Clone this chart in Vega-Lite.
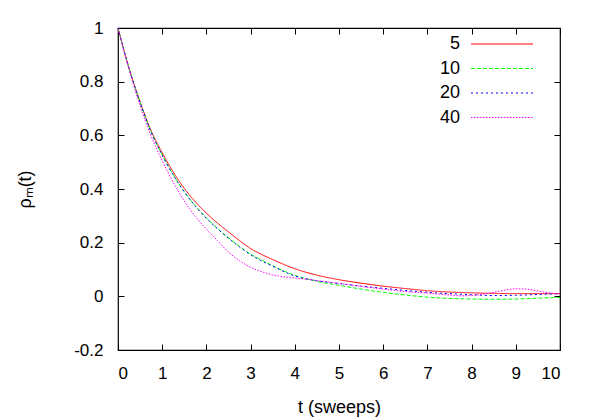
{
  "$schema": "https://vega.github.io/schema/vega-lite/v6.json",
  "autosize": "none",
  "width": 442,
  "height": 322,
  "padding": {"left": 118, "top": 28, "right": 40, "bottom": 70},
  "background": "white",
  "config": {
    "font": "Liberation Sans",
    "view": {"stroke": "#000000", "strokeWidth": 1.2},
    "axis": {
      "grid": false,
      "domain": false,
      "ticks": true,
      "tickColor": "#000000",
      "tickSize": 6,
      "tickWidth": 1,
      "offset": -6,
      "labelFont": "Liberation Sans",
      "labelFontSize": 17,
      "labelColor": "#000000",
      "titleFont": "Liberation Sans",
      "titleFontSize": 18,
      "titleFontWeight": "normal",
      "titleColor": "#000000"
    }
  },
  "data": {"values": [
    {"L":"5","t":0,"v":1},{"L":"5","t":0.25,"v":0.85},{"L":"5","t":0.5,"v":0.725},{"L":"5","t":0.75,"v":0.617},{"L":"5","t":1,"v":0.535},{"L":"5","t":1.25,"v":0.463},{"L":"5","t":1.5,"v":0.402},{"L":"5","t":1.75,"v":0.352},{"L":"5","t":2,"v":0.31},{"L":"5","t":2.25,"v":0.273},{"L":"5","t":2.5,"v":0.24},{"L":"5","t":2.75,"v":0.208},{"L":"5","t":3,"v":0.178},{"L":"5","t":3.25,"v":0.156},{"L":"5","t":3.5,"v":0.137},{"L":"5","t":4,"v":0.103},{"L":"5","t":4.5,"v":0.079},{"L":"5","t":5,"v":0.062},{"L":"5","t":5.5,"v":0.049},{"L":"5","t":6,"v":0.038},{"L":"5","t":6.5,"v":0.029},{"L":"5","t":7,"v":0.021},{"L":"5","t":7.5,"v":0.016},{"L":"5","t":8,"v":0.013},{"L":"5","t":8.5,"v":0.011},{"L":"5","t":9,"v":0.01},{"L":"5","t":9.5,"v":0.01},{"L":"5","t":10,"v":0.01},
    {"L":"10","t":0,"v":1},{"L":"10","t":0.25,"v":0.85},{"L":"10","t":0.5,"v":0.723},{"L":"10","t":0.75,"v":0.613},{"L":"10","t":1,"v":0.527},{"L":"10","t":1.25,"v":0.453},{"L":"10","t":1.5,"v":0.39},{"L":"10","t":1.75,"v":0.337},{"L":"10","t":2,"v":0.292},{"L":"10","t":2.25,"v":0.253},{"L":"10","t":2.5,"v":0.218},{"L":"10","t":2.75,"v":0.186},{"L":"10","t":3,"v":0.157},{"L":"10","t":3.25,"v":0.135},{"L":"10","t":3.5,"v":0.114},{"L":"10","t":4,"v":0.078},{"L":"10","t":4.5,"v":0.056},{"L":"10","t":5,"v":0.041},{"L":"10","t":5.5,"v":0.027},{"L":"10","t":6,"v":0.015},{"L":"10","t":6.5,"v":0.005},{"L":"10","t":7,"v":-0.003},{"L":"10","t":7.5,"v":-0.008},{"L":"10","t":8,"v":-0.01},{"L":"10","t":8.5,"v":-0.011},{"L":"10","t":9,"v":-0.01},{"L":"10","t":9.5,"v":-0.007},{"L":"10","t":10,"v":-0.004},
    {"L":"20","t":0,"v":1},{"L":"20","t":0.25,"v":0.85},{"L":"20","t":0.5,"v":0.722},{"L":"20","t":0.75,"v":0.612},{"L":"20","t":1,"v":0.526},{"L":"20","t":1.25,"v":0.452},{"L":"20","t":1.5,"v":0.389},{"L":"20","t":1.75,"v":0.336},{"L":"20","t":2,"v":0.291},{"L":"20","t":2.25,"v":0.252},{"L":"20","t":2.5,"v":0.216},{"L":"20","t":2.75,"v":0.184},{"L":"20","t":3,"v":0.155},{"L":"20","t":3.25,"v":0.132},{"L":"20","t":3.5,"v":0.112},{"L":"20","t":4,"v":0.076},{"L":"20","t":4.5,"v":0.058},{"L":"20","t":5,"v":0.048},{"L":"20","t":5.5,"v":0.038},{"L":"20","t":6,"v":0.03},{"L":"20","t":6.5,"v":0.022},{"L":"20","t":7,"v":0.015},{"L":"20","t":7.5,"v":0.01},{"L":"20","t":8,"v":0.006},{"L":"20","t":8.5,"v":0.003},{"L":"20","t":9,"v":0.004},{"L":"20","t":9.5,"v":0.007},{"L":"20","t":10,"v":0.01},
    {"L":"40","t":0,"v":1},{"L":"40","t":0.25,"v":0.845},{"L":"40","t":0.5,"v":0.71},{"L":"40","t":0.75,"v":0.597},{"L":"40","t":1,"v":0.505},{"L":"40","t":1.25,"v":0.425},{"L":"40","t":1.5,"v":0.355},{"L":"40","t":1.75,"v":0.298},{"L":"40","t":2,"v":0.25},{"L":"40","t":2.25,"v":0.208},{"L":"40","t":2.5,"v":0.165},{"L":"40","t":2.75,"v":0.133},{"L":"40","t":3,"v":0.108},{"L":"40","t":3.25,"v":0.092},{"L":"40","t":3.5,"v":0.08},{"L":"40","t":3.75,"v":0.073},{"L":"40","t":4,"v":0.068},{"L":"40","t":4.25,"v":0.064},{"L":"40","t":4.5,"v":0.059},{"L":"40","t":5,"v":0.048},{"L":"40","t":5.5,"v":0.037},{"L":"40","t":6,"v":0.027},{"L":"40","t":6.5,"v":0.018},{"L":"40","t":7,"v":0.012},{"L":"40","t":7.5,"v":0.005},{"L":"40","t":7.75,"v":0.002},{"L":"40","t":8,"v":0.003},{"L":"40","t":8.25,"v":0.008},{"L":"40","t":8.5,"v":0.015},{"L":"40","t":8.75,"v":0.023},{"L":"40","t":9,"v":0.028},{"L":"40","t":9.25,"v":0.027},{"L":"40","t":9.5,"v":0.02},{"L":"40","t":9.75,"v":0.013},{"L":"40","t":10,"v":0.009}
  ]},
  "layer": [
    {
      "mark": {"type": "line", "strokeWidth": 1, "interpolate": "monotone"},
      "encoding": {
        "x": {"field": "t", "type": "quantitative", "scale": {"domain": [0, 10], "nice": false},
              "axis": {"title": "t (sweeps)", "values": [0,1,2,3,4,5,6,7,8,9,10], "labelPadding": 15, "titlePadding": 17}},
        "y": {"field": "v", "type": "quantitative", "scale": {"domain": [-0.2, 1], "nice": false, "zero": false},
              "axis": {"title": "ρₘ(t)", "values": [-0.2,0,0.2,0.4,0.6,0.8,1], "labelPadding": 15, "titlePadding": 39,
                       "labelExpr": "datum.value == 1 ? '1' : datum.value == 0 ? '0' : (datum.value < 0 ? '-' + format(-datum.value, '.1f') : format(datum.value, '.1f'))"}},
        "color": {"field": "L", "type": "nominal", "sort": ["5","10","20","40"],
                  "scale": {"domain": ["5","10","20","40"], "range": ["#ff0000","#00ff00","#0000ff","#ff00ff"]},
                  "legend": {"orient": "none", "legendX": 375, "legendY": 7, "title": null,
                             "symbolType": "M-6,0H6", "symbolSize": 107, "symbolStrokeWidth": 1.2,
                             "labelFont": "Liberation Sans", "labelFontSize": 18, "labelColor": "#000000",
                             "labelAlign": "right", "labelOffset": -51, "rowPadding": 6.5}},
        "strokeDash": {"field": "L", "type": "nominal", "sort": ["5","10","20","40"],
                  "scale": {"domain": ["5","10","20","40"], "range": [[1,0],[4,2],[2,3],[1.5,1.5]]},
                  "legend": null}
      }
    },
    {
      "mark": {"type": "line", "opacity": 0},
      "encoding": {
        "x": {"field": "t", "type": "quantitative",
              "axis": {"orient": "top", "labels": false, "title": null, "values": [0,1,2,3,4,5,6,7,8,9,10]}},
        "y": {"field": "v", "type": "quantitative",
              "axis": {"orient": "right", "labels": false, "title": null, "values": [-0.2,0,0.2,0.4,0.6,0.8,1]}}
      }
    }
  ],
  "resolve": {"axis": {"x": "independent", "y": "independent"}}
}
